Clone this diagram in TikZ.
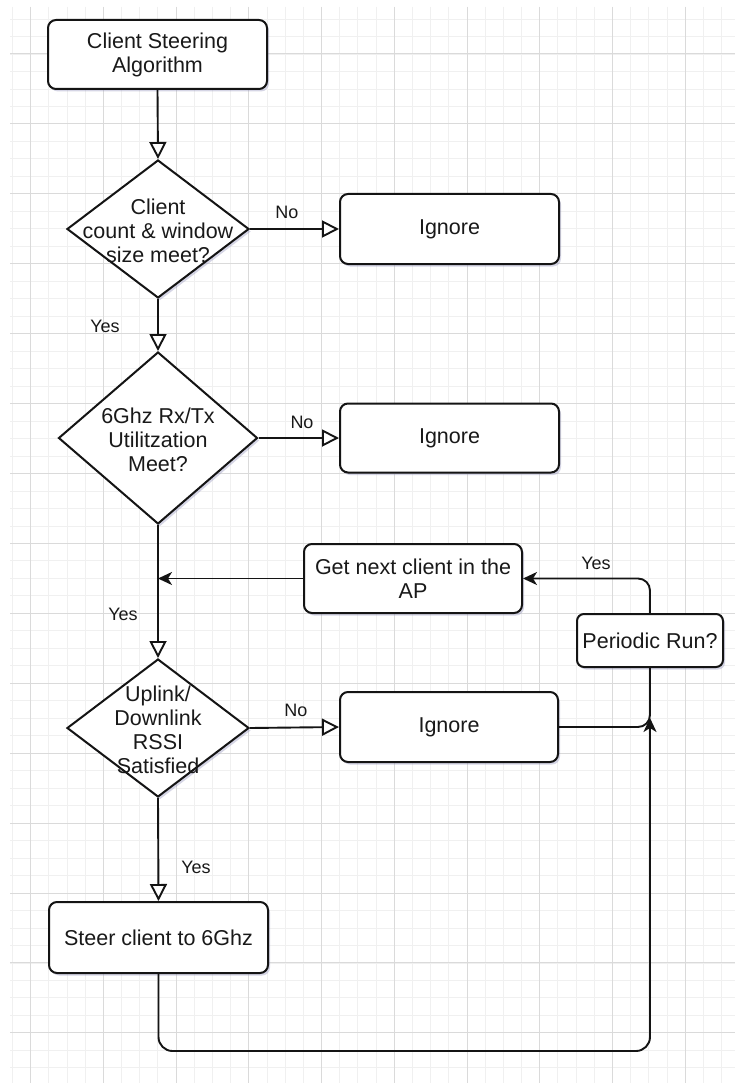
\documentclass[tikz,border=0pt]{standalone}
\usepackage{fontspec}
\setmainfont{Liberation Sans}
\usetikzlibrary{shapes.geometric,arrows.meta,shadows}
\definecolor{shadowc}{RGB}{150,150,190}
\definecolor{inkc}{RGB}{20,20,20}
\definecolor{minorc}{RGB}{240,240,240}
\definecolor{majorc}{RGB}{218,218,218}
\begin{document}
\begin{tikzpicture}[x=1pt,y=-1pt,
  minorgrid/.style={draw=minorc, line width=0.9pt},
  majorgrid/.style={draw=majorc, line width=1pt},
  shad/.style={drop shadow={shadow xshift=2pt, shadow yshift=-2.5pt, opacity=0.4, fill=shadowc}},
  boxnode/.style={draw=inkc, line width=2pt, fill=white, rounded corners=8pt, inner sep=0pt,
    text=black!90, font=\fontsize{21.5}{24}\selectfont, align=center, shad},
  dianode/.style={draw=inkc, line width=2pt, fill=white, shape=diamond, inner sep=0pt, shad},
  diatext/.style={inner sep=0pt, text=black!90, font=\fontsize{21.5}{24}\selectfont, align=center},
  lbl/.style={inner sep=0pt, text=black!90, font=\fontsize{18}{20}\selectfont},
  conn/.style={draw=inkc, line width=1.9pt},
  openarr/.style={conn, -{Triangle[length=17pt, width=17pt, fill=white]}},
  fillarr/.style={conn, -{Stealth[length=14pt, width=13pt, inset=4pt]}}
]
\useasboundingbox (0,0) rectangle (735,1083);
\fill[white] (0,0) rectangle (735,1083);
% grid
\foreach \i in {0,...,39} \draw[minorgrid] ({12.5+18.18*\i},7) -- ({12.5+18.18*\i},1083);
\foreach \i in {1,...,61} \draw[minorgrid] (10,{1.56+17.48*\i}) -- (735,{1.56+17.48*\i});
\foreach \i in {0,...,9} \draw[majorgrid] ({30.7+72.72*\i},7) -- ({30.7+72.72*\i},1083);
\foreach \i in {0,...,14} \draw[majorgrid] (10,{54+69.92*\i}) -- (735,{54+69.92*\i});

% nodes
\node[boxnode, minimum width=219pt, minimum height=69pt] (start) at (157.5,54.5) {Client Steering\\Algorithm};
\node[dianode, minimum width=182pt, minimum height=138pt] (d1) at (158,229) {};
\node[diatext] (d1t) at (158,231) {Client\\count \& window\\size meet?};
\node[boxnode, minimum width=219pt, minimum height=70pt] (ig1) at (449.5,229) {Ignore};
\node[dianode, minimum width=199pt, minimum height=172pt] (d2) at (158,438) {};
\node[diatext] (d2t) at (158,440) {6Ghz Rx/Tx\\Utilitzation\\Meet?};
\node[boxnode, minimum width=219pt, minimum height=69pt] (ig2) at (449.5,438) {Ignore};
\node[boxnode, minimum width=218pt, minimum height=69pt] (get) at (413,578.5) {Get next client in the\\AP};
\node[boxnode, minimum width=146pt, minimum height=53pt, rounded corners=7pt] (per) at (650,640.5) {Periodic Run?};
\node[dianode, minimum width=182pt, minimum height=138pt] (d3) at (158,728) {};
\node[diatext] (d3t) at (158,730) {Uplink/\\Downlink\\RSSI\\Satisfied};
\node[boxnode, minimum width=218pt, minimum height=70pt] (ig3) at (449,727) {Ignore};
\node[boxnode, minimum width=219pt, minimum height=71pt] (steer) at (158.5,937.5) {Steer client to 6Ghz};

% labels
\node[lbl] (no1) at (287,212) {No};
\node[lbl] (yes1) at (105,326) {Yes};
\node[lbl] (no2) at (302,422) {No};
\node[lbl] (yes2) at (123,614) {Yes};
\node[lbl] (yes3) at (596,563) {Yes};
\node[lbl] (no3) at (296,710) {No};
\node[lbl] (yes4) at (196,867) {Yes};

% connectors
\draw[openarr] (start.south) -- (d1.north);
\draw[openarr] (d1.east) -- (ig1.west);
\draw[openarr] (d1.south) -- (d2.north);
\draw[openarr] (d2.east) -- (ig2.west);
\draw[openarr] (d2.south) -- (d3.north);
\draw[fillarr] (get.west) -- (get.west -| d2.south);
\draw[openarr] (d3.east) -- (ig3.west);
\draw[openarr] (d3.south) -- (steer.north);
\draw[fillarr, rounded corners=12pt] (per.north) |- (get.east);
\draw[conn, rounded corners=12pt] (ig3.east) -| (per.south);
\coordinate (lb) at (650,1051);
\coordinate (loopend) at (650,718);
\draw[fillarr, rounded corners=14pt] (steer.south) |- (lb) -- (loopend);
\end{tikzpicture}
\end{document}
